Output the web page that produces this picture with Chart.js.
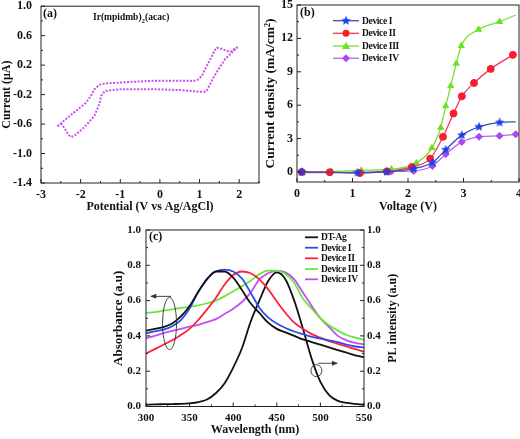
<!DOCTYPE html>
<html>
<head>
<meta charset="utf-8">
<script src="https://cdn.jsdelivr.net/npm/chart.js@4.4.1/dist/chart.umd.min.js"></script>
<style>
  html, body { margin: 0; padding: 0; background: #fff; }
  #figure { position: relative; width: 520px; height: 439px; overflow: hidden; background: #fff; }
  #figure canvas { position: absolute; }
</style>
</head>
<body>
<div id="figure">
  <canvas id="chartA" width="270" height="240" style="left:0px;top:-10px"></canvas>
  <canvas id="chartB" width="268" height="240" style="left:262px;top:-10px"></canvas>
  <canvas id="chartC" width="320" height="224" style="left:90px;top:215px"></canvas>
</div>
<script>
// ---- (a) cyclic voltammogram, closed loop
const cvPotential = [1.96, 1.77, 1.56, 1.44, 1.38, 1.31, 1.14, 1.06, 0.95, 0.85, 0.3, -0.25, -0.8, -1.40, -1.53, -1.65, -1.74, -1.86, -2.16, -2.41, -2.6,
  -2.48, -2.4, -2.3, -2.24, -2.16, -1.91, -1.65, -1.53, -1.48, -1.40, -1.36, -0.98, -0.22, 0.59, 1.01, 1.12, 1.18, 1.35, 1.64, 1.96];
const cvCurrent = [0.446, 0.378, 0.42, 0.437, 0.40, 0.32, 0.145, 0.054, 0.0, -0.014, -0.012, -0.014, -0.03, -0.05, -0.068, -0.126, -0.216, -0.307, -0.44, -0.55, -0.635,
  -0.60, -0.66, -0.75, -0.775, -0.76, -0.645, -0.486, -0.33, -0.216, -0.16, -0.149, -0.126, -0.126, -0.14, -0.162, -0.16, -0.15, 0.031, 0.28, 0.446];
const aXTicks = [-3, -2, -1, 0, 1, 2];
const aYTicks = [-1.4, -1.0, -0.6, -0.2, 0.2, 0.6, 1.0];

// ---- (b) J-V curves
const devNames = ["Device I", "Device II", "Device III", "Device IV"];
const dev1V = [0.085, 1.09, 1.62, 2.10, 2.44, 2.68, 2.97, 3.28, 3.65, 3.94];
const dev1J = [0.0, -0.05, 0.02, 0.3, 0.85, 2.0, 3.31, 4.06, 4.45, 4.5];
const dev2V = [0.085, 0.59, 1.13, 1.62, 2.07, 2.40, 2.63, 2.82, 2.97, 3.19, 3.49, 3.89];
const dev2J = [0.0, -0.02, -0.1, 0.05, 0.45, 1.2, 3.16, 5.26, 6.8, 8.0, 9.26, 10.52];
const dev3V = [0.10, 0.62, 1.16, 1.70, 2.15, 2.43, 2.59, 2.68, 2.77, 2.87, 2.96, 3.27, 3.65, 3.94];
const dev3J = [-0.05, 0.05, 0.15, 0.25, 0.8, 2.16, 3.99, 5.92, 7.73, 9.75, 11.33, 12.8, 13.5, 14.1];
const dev4V = [0.085, 0.59, 1.16, 1.70, 2.10, 2.44, 2.68, 2.97, 3.28, 3.65, 3.94];
const dev4J = [-0.05, -0.05, -0.05, 0.05, 0.1, 0.54, 1.6, 2.7, 3.16, 3.25, 3.38];
const bXTicks = [0, 1, 2, 3, 4];
const bYTicks = [0, 3, 6, 9, 12, 15];

// ---- (c) absorbance / PL spectra
const wavelength = [300, 310, 320, 330, 340, 350, 360, 370, 380, 390, 400, 410, 420, 430, 440, 450, 460, 470, 480, 490, 500, 510, 520, 530, 540, 550];
const dtAgAbs = [0.43, 0.44, 0.45, 0.47, 0.51, 0.57, 0.65, 0.72, 0.765, 0.765, 0.73, 0.66, 0.585, 0.53, 0.475, 0.44, 0.42, 0.40, 0.38, 0.365, 0.35, 0.335, 0.32, 0.305, 0.29, 0.28];
const dev1Abs = [0.415, 0.425, 0.435, 0.455, 0.49, 0.555, 0.65, 0.725, 0.765, 0.775, 0.765, 0.725, 0.645, 0.56, 0.505, 0.47, 0.445, 0.425, 0.41, 0.395, 0.385, 0.375, 0.365, 0.35, 0.34, 0.335];
const dev2Abs = [0.30, 0.325, 0.35, 0.375, 0.405, 0.44, 0.49, 0.55, 0.615, 0.69, 0.745, 0.765, 0.755, 0.72, 0.665, 0.595, 0.53, 0.475, 0.44, 0.41, 0.39, 0.37, 0.355, 0.34, 0.325, 0.31];
const dev3Abs = [0.53, 0.535, 0.543, 0.55, 0.558, 0.565, 0.573, 0.585, 0.60, 0.624, 0.652, 0.681, 0.713, 0.75, 0.77, 0.77, 0.75, 0.70, 0.61, 0.555, 0.50, 0.46, 0.43, 0.405, 0.39, 0.378];
const dev4Abs = [0.387, 0.40, 0.416, 0.428, 0.44, 0.452, 0.463, 0.478, 0.495, 0.524, 0.554, 0.592, 0.645, 0.72, 0.755, 0.77, 0.76, 0.72, 0.645, 0.57, 0.50, 0.45, 0.40, 0.375, 0.36, 0.352];
const dtAgPL = [0.01, 0.012, 0.013, 0.014, 0.015, 0.018, 0.025, 0.04, 0.075, 0.13, 0.22, 0.33, 0.48, 0.6, 0.71, 0.76, 0.72, 0.6, 0.44, 0.27, 0.14, 0.065, 0.032, 0.02, 0.015, 0.01];
const cLegend = ["DT-Ag", "Device I", "Device II", "Device III", "Device IV"];
const cXTicks = [300, 350, 400, 450, 500, 550];
const cYTicks = [0.0, 0.2, 0.4, 0.6, 0.8, 1.0];

const SERIF = "'Liberation Serif', 'Times New Roman', serif";
Chart.defaults.font.family = SERIF;
Chart.defaults.font.weight = "bold";
Chart.defaults.color = "#111";

const ink = "#222";

function pairs(xs, ys) {
  return xs.map((x, i) => ({ x, y: ys[i] }));
}

function bold(size) {
  return { family: SERIF, size, weight: "bold" };
}

function setTicks(values) {
  return (scale) => {
    scale.ticks = values.map((value) => ({ value }));
  };
}

// box round the plot plus inward major / minor ticks
const boxTicks = {
  id: "boxTicks",
  afterDraw(chart) {
    const { ctx, chartArea: area } = chart;
    ctx.save();
    ctx.strokeStyle = ink;
    ctx.lineWidth = 1;
    ctx.strokeRect(area.left, area.top, area.right - area.left, area.bottom - area.top);
    ctx.beginPath();
    Object.values(chart.scales).forEach((scale) => {
      const values = scale.ticks.map((t) => t.value);
      const minors = [];
      for (let i = 0; i < values.length - 1; i++) {
        minors.push((values[i] + values[i + 1]) / 2);
      }
      const half = (values[1] - values[0]) / 2;
      if (values[values.length - 1] + half <= scale.max + 1e-9) {
        minors.push(values[values.length - 1] + half);
      }
      const mark = (v, len) => {
        const p = scale.getPixelForValue(v);
        if (scale.isHorizontal()) {
          ctx.moveTo(p, area.bottom);
          ctx.lineTo(p, area.bottom - len);
        } else if (scale.position === "left") {
          ctx.moveTo(area.left, p);
          ctx.lineTo(area.left + len, p);
        } else {
          ctx.moveTo(area.right, p);
          ctx.lineTo(area.right - len, p);
        }
      };
      values.forEach((v) => mark(v, 4));
      minors.forEach((v) => mark(v, 2));
    });
    ctx.stroke();
    ctx.restore();
  }
};

function axis(min, max, ticks, size, pad, fmt, title, titleSize, extra) {
  return Object.assign({
    type: "linear",
    min,
    max,
    afterBuildTicks: setTicks(ticks),
    grid: { display: false, drawTicks: false },
    border: { display: false },
    ticks: { font: bold(size), color: "#111", padding: pad, maxRotation: 0, autoSkip: false, callback: fmt },
    title: { display: !!title, text: title, font: bold(titleSize), color: "#111", padding: 0 }
  }, extra);
}

const oneDecimal = (v) => Number(v).toFixed(1);
const plain = (v) => String(v);

function legendText(ctx, text, x, y) {
  ctx.font = "bold 9.5px " + SERIF;
  ctx.letterSpacing = "-0.35px";
  ctx.fillText(text, x, y);
  ctx.letterSpacing = "0px";
}

// ---------- (a)
new Chart(document.getElementById("chartA"), {
  type: "scatter",
  data: {
    datasets: [{
      data: pairs(cvPotential, cvCurrent),
      showLine: true,
      borderColor: "#c94cf2",
      borderWidth: 2,
      borderDash: [2, 1.5],
      pointRadius: 0,
      tension: 0,
      fill: false
    }]
  },
  options: {
    responsive: false,
    devicePixelRatio: 1,
    animation: false,
    layout: { padding: { left: 0, top: 15, right: 11, bottom: 16 } },
    plugins: { legend: { display: false }, tooltip: { enabled: false } },
    scales: {
      x: axis(-3, 2.5, aXTicks, 12, 5, plain, "Potential (V vs Ag/AgCl)", 12, { afterFit: (s) => { s.height = 31; } }),
      y: axis(-1.4, 1.0, aYTicks, 12, 9, oneDecimal, "Current (\u03BCA)", 12, { afterFit: (s) => { s.width = 41; } })
    }
  },
  plugins: [boxTicks, {
    id: "labelsA",
    afterDraw(chart) {
      const { ctx, chartArea: area } = chart;
      ctx.save();
      ctx.fillStyle = "#111";
      ctx.textBaseline = "middle";
      ctx.font = "bold 12px " + SERIF;
      ctx.fillText("(a)", area.left + 2, area.top + 8);
      ctx.font = "bold 9.5px " + SERIF;
      let x = area.left + 52;
      const y = area.top + 11.5;
      ctx.fillText("Ir(mpidmb)", x, y);
      x += ctx.measureText("Ir(mpidmb)").width;
      ctx.font = "bold 7px " + SERIF;
      ctx.fillText("2", x, y + 3);
      x += ctx.measureText("2").width;
      ctx.font = "bold 9.5px " + SERIF;
      ctx.fillText("(acac)", x, y);
      ctx.restore();
    }
  }]
});

// ---------- (b)
function starMarker(color, size) {
  const c = document.createElement("canvas");
  c.width = size;
  c.height = size;
  const g = c.getContext("2d");
  const r = size / 2;
  g.beginPath();
  for (let i = 0; i < 10; i++) {
    const ang = -Math.PI / 2 + (i * Math.PI) / 5;
    const rr = i % 2 ? r * 0.45 : r;
    g.lineTo(r + rr * Math.cos(ang), r + rr * Math.sin(ang));
  }
  g.closePath();
  g.fillStyle = color;
  g.fill();
  return c;
}

const star = starMarker("#1d3fe6", 10);
const bStyles = [
  { line: "#3a4fb0", marker: "#1d3fe6", shape: star, hideLast: true },
  { line: "#f0385a", marker: "#ff1a2e", shape: "circle", hideLast: false },
  { line: "#78e030", marker: "#6ee020", shape: "triangle", hideLast: true },
  { line: "#b566f2", marker: "#a848f2", shape: "rectRot", hideLast: false }
];
const bSeries = [[dev1V, dev1J], [dev2V, dev2J], [dev3V, dev3J], [dev4V, dev4J]];

new Chart(document.getElementById("chartB"), {
  type: "scatter",
  data: {
    datasets: bSeries.map(([xs, ys], i) => ({
      label: devNames[i],
      data: pairs(xs, ys),
      showLine: true,
      borderColor: bStyles[i].line,
      borderWidth: 1.3,
      pointStyle: bStyles[i].shape,
      pointBackgroundColor: bStyles[i].marker,
      pointBorderColor: bStyles[i].marker,
      pointBorderWidth: 1,
      pointRadius: xs.map((_, k) => (bStyles[i].hideLast && k === xs.length - 1 ? 0 : 3.5)),
      cubicInterpolationMode: "monotone",
      fill: false
    }))
  },
  options: {
    responsive: false,
    devicePixelRatio: 1,
    animation: false,
    layout: { padding: { left: 0, top: 15, right: 11, bottom: 16 } },
    plugins: { legend: { display: false }, tooltip: { enabled: false } },
    scales: {
      x: axis(0, 4, bXTicks, 12, 5, plain, "Voltage (V)", 12, { afterFit: (s) => { s.height = 32; } }),
      y: axis(-0.9, 15, bYTicks, 12, 4, plain, "Current density (mA/cm\u00B2)", 13.5, { afterFit: (s) => { s.width = 35; } })
    }
  },
  plugins: [boxTicks, {
    id: "legendB",
    afterDraw(chart) {
      const { ctx, chartArea: area } = chart;
      ctx.save();
      ctx.fillStyle = "#111";
      ctx.textBaseline = "middle";
      ctx.font = "bold 12px " + SERIF;
      ctx.fillText("(b)", area.left + 3, area.top + 7.5);
      const rows = [15.7, 28.3, 41, 53.3];
      devNames.forEach((name, i) => {
        const y = area.top + rows[i];
        const st = bStyles[i];
        ctx.strokeStyle = st.line;
        ctx.lineWidth = 1.3;
        ctx.beginPath();
        ctx.moveTo(area.left + 36, y);
        ctx.lineTo(area.left + 62, y);
        ctx.stroke();
        const cx = area.left + 49;
        ctx.fillStyle = st.marker;
        ctx.beginPath();
        if (st.shape === "circle") {
          ctx.arc(cx, y, 3.5, 0, Math.PI * 2);
          ctx.fill();
        } else if (st.shape === "triangle") {
          ctx.moveTo(cx, y - 4);
          ctx.lineTo(cx + 4, y + 3);
          ctx.lineTo(cx - 4, y + 3);
          ctx.closePath();
          ctx.fill();
        } else if (st.shape === "rectRot") {
          ctx.moveTo(cx, y - 4);
          ctx.lineTo(cx + 4, y);
          ctx.lineTo(cx, y + 4);
          ctx.lineTo(cx - 4, y);
          ctx.closePath();
          ctx.fill();
        } else {
          ctx.drawImage(st.shape, cx - 5, y - 5);
        }
        ctx.fillStyle = "#111";
        legendText(ctx, name, area.left + 65, y + 0.5);
      });
      ctx.restore();
    }
  }]
});

// ---------- (c)
const cColors = ["#111111", "#2b4fe6", "#ff1f3a", "#6ae83a", "#c050f0"];
const cAbs = [dtAgAbs, dev1Abs, dev2Abs, dev3Abs, dev4Abs];

// arrow + ellipse marks that tie the curves to their axes
const absMark = { cx: 327, cy: 0.47, rx: 8, ry: 0.148, from: 329, to: 306, at: 0.624 };
const plMark = { cx: 495.4, cy: 0.203, rx: 6.3, ry: 0.034, from: 497.5, to: 519, at: 0.245 };

new Chart(document.getElementById("chartC"), {
  type: "scatter",
  data: {
    datasets: cAbs.map((ys, i) => ({
      label: cLegend[i],
      data: pairs(wavelength, ys),
      yAxisID: "y",
      showLine: true,
      borderColor: cColors[i],
      borderWidth: 1.8,
      pointRadius: 0,
      cubicInterpolationMode: "monotone",
      fill: false
    })).concat([{
      label: "DT-Ag PL",
      data: pairs(wavelength, dtAgPL),
      yAxisID: "y2",
      showLine: true,
      borderColor: cColors[0],
      borderWidth: 1.8,
      pointRadius: 0,
      cubicInterpolationMode: "monotone",
      fill: false
    }])
  },
  options: {
    responsive: false,
    devicePixelRatio: 1,
    animation: false,
    layout: { padding: { left: 21, top: 15, right: 10, bottom: 2 } },
    plugins: { legend: { display: false }, tooltip: { enabled: false } },
    scales: {
      x: axis(300, 550, cXTicks, 11, 5, plain, "Wavelength (nm)", 12, { afterFit: (s) => { s.height = 30.5; } }),
      y: axis(0, 1, cYTicks, 11, 5, oneDecimal, "Absorbance (a.u)", 13, { position: "left", afterFit: (s) => { s.width = 35; } }),
      y2: axis(0, 1, cYTicks, 11, 3, oneDecimal, "", 12, { position: "right", afterFit: (s) => { s.width = 36; } })
    }
  },
  plugins: [boxTicks, {
    id: "extrasC",
    afterDraw(chart) {
      const { ctx, chartArea: area, scales } = chart;
      const X = (v) => scales.x.getPixelForValue(v);
      const Y = (v) => scales.y.getPixelForValue(v);
      ctx.save();
      ctx.fillStyle = "#111";
      ctx.textBaseline = "middle";
      ctx.font = "bold 12px " + SERIF;
      ctx.fillText("(c)", area.left + 3, area.top + 7);

      // right axis title, reading bottom to top
      ctx.save();
      ctx.translate(area.right + 29.3, (area.top + area.bottom) / 2);
      ctx.rotate(-Math.PI / 2);
      ctx.textAlign = "center";
      ctx.font = "bold 12px " + SERIF;
      ctx.fillText("PL intensity (a.u)", 0, 0);
      ctx.restore();

      // legend
      const rows = [7.3, 17.7, 28.3, 39, 49.3];
      cLegend.forEach((name, i) => {
        const y = area.top + rows[i];
        ctx.strokeStyle = cColors[i];
        ctx.lineWidth = 1.8;
        ctx.beginPath();
        ctx.moveTo(area.left + 159, y);
        ctx.lineTo(area.left + 172, y);
        ctx.stroke();
        ctx.fillStyle = "#111";
        legendText(ctx, name, area.left + 175, y + 0.5);
      });

      // ellipses and arrows
      ctx.strokeStyle = "#333";
      ctx.fillStyle = "#333";
      ctx.lineWidth = 0.9;
      [absMark, plMark].forEach((m) => {
        const cx = X(m.cx);
        const cy = Y(m.cy);
        const rx = Math.abs(X(m.cx + m.rx) - cx);
        const ry = Math.abs(Y(m.cy + m.ry) - cy);
        ctx.beginPath();
        ctx.ellipse(cx, cy, rx, ry, 0, 0, Math.PI * 2);
        ctx.stroke();
        const x0 = X(m.from);
        const x1 = X(m.to);
        const ya = Y(m.at);
        const dir = Math.sign(x1 - x0);
        ctx.beginPath();
        ctx.moveTo(x0, ya);
        ctx.lineTo(x1, ya);
        ctx.stroke();
        ctx.beginPath();
        ctx.moveTo(x1 + dir * 1, ya);
        ctx.lineTo(x1 - dir * 5, ya - 2.5);
        ctx.lineTo(x1 - dir * 5, ya + 2.5);
        ctx.closePath();
        ctx.fill();
      });
      ctx.restore();
    }
  }]
});
</script>
</body>
</html>
